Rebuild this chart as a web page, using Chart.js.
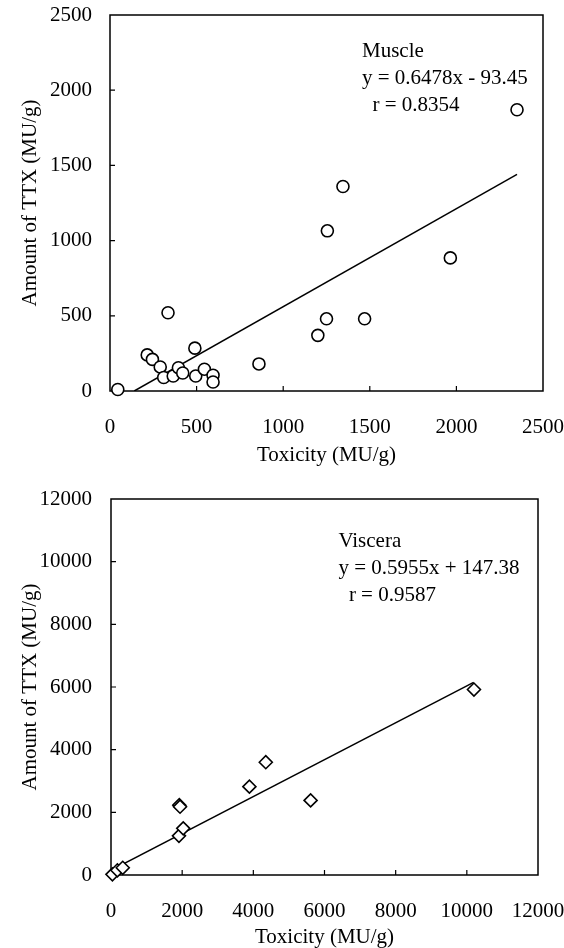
<!DOCTYPE html>
<html>
<head>
<style type="text/css">
body { margin: 0; background: #fff; }
canvas { display: block; }
</style>
<title>TTX vs toxicity</title>
<script type="text/javascript" src="https://cdn.jsdelivr.net/npm/chart.js@4/dist/chart.umd.min.js"></script>
</head>
<body>
<canvas id="muscle" width="564" height="470"></canvas>
<canvas id="viscera" width="564" height="478"></canvas>
<script type="text/javascript">
// muscle: toxicity (MU/g) vs amount of TTX (MU/g)
var muscleX = [45, 215, 245, 290, 310, 335, 365, 395, 420, 490, 495, 545, 595, 595, 860, 1200, 1250, 1255, 1345, 1470, 1965, 2350];
var muscleY = [10, 240, 210, 160, 90, 520, 100, 155, 120, 285, 100, 145, 105, 60, 180, 370, 480, 1065, 1360, 480, 885, 1870];
var muscleFitX = [140, 2350];
var muscleFitY = [0, 1440];
var muscleNote = ['Muscle', 'y = 0.6478x - 93.45', '  r = 0.8354'];

// viscera
var visceraX = [40, 180, 330, 1920, 1940, 1910, 2030, 3890, 4350, 5610, 10200];
var visceraY = [20, 150, 230, 2230, 2180, 1250, 1490, 2820, 3600, 2380, 5920];
var visceraFitX = [0, 10190];
var visceraFitY = [150, 6150];
var visceraNote = ['Viscera', 'y = 0.5955x + 147.38', '  r = 0.9587'];

var FONT = '"Liberation Serif", "Times New Roman", serif';

function toPoints(xs, ys) {
	var pts = [];
	for (var i = 0; i < xs.length; ++i) pts.push({x: xs[i], y: ys[i]});
	return pts;
}

// box round the plot, inward tick marks, and the fit label
var framePlugin = {
	id: 'frame',
	beforeDatasetsDraw: function (chart) {
		var ctx = chart.ctx, a = chart.chartArea;
		var xs = chart.scales.x, ys = chart.scales.y;
		ctx.save();
		ctx.strokeStyle = '#000';
		ctx.lineWidth = 1.5;
		ctx.strokeRect(a.left, a.top, a.right - a.left, a.bottom - a.top);
		ctx.lineWidth = 1.2;
		ctx.beginPath();
		for (var i = 1; i < xs.ticks.length - 1; ++i) {
			var px = xs.getPixelForTick(i);
			ctx.moveTo(px, a.bottom);
			ctx.lineTo(px, a.bottom - 5);
		}
		for (var j = 1; j < ys.ticks.length - 1; ++j) {
			var py = ys.getPixelForTick(j);
			ctx.moveTo(a.left, py);
			ctx.lineTo(a.left + 5, py);
		}
		ctx.stroke();
		ctx.restore();
	},
	afterDatasetsDraw: function (chart, args, opts) {
		var ctx = chart.ctx;
		var x = chart.scales.x.getPixelForValue(opts.x);
		var y = chart.scales.y.getPixelForValue(opts.y);
		ctx.save();
		ctx.fillStyle = '#000';
		ctx.font = '21px ' + FONT;
		ctx.textAlign = 'left';
		ctx.textBaseline = 'alphabetic';
		for (var i = 0; i < opts.lines.length; ++i) {
			ctx.fillText(opts.lines[i], x, y + i * 27);
		}
		ctx.restore();
	}
};

function createChart(id, cfg) {
	var tickFont = {family: FONT, size: 21};
	var titleFont = {family: FONT, size: 21, lineHeight: 1};
	return new Chart(document.getElementById(id).getContext('2d'), {
		type: 'scatter',
		data: {
			datasets: [
				{
					data: toPoints(cfg.xs, cfg.ys),
					pointStyle: cfg.marker,
					pointRadius: cfg.radius,
					pointBorderWidth: 1.6,
					pointBorderColor: '#000',
					pointBackgroundColor: '#fff',
					clip: false
				},
				{
					data: toPoints(cfg.fitX, cfg.fitY),
					showLine: true,
					borderColor: '#000',
					borderWidth: 1.5,
					pointRadius: 0,
					order: 1
				}
			]
		},
		options: {
			responsive: false,
			animation: false,
			layout: {padding: cfg.padding},
			plugins: {
				legend: {display: false},
				tooltip: {enabled: false},
				frame: {x: cfg.noteX, y: cfg.noteY, lines: cfg.note}
			},
			scales: {
				x: {
					type: 'linear',
					min: 0,
					max: cfg.xMax,
					afterFit: function (s) {
						s.height = cfg.xHeight;
						s.paddingLeft = 0;
						s.paddingRight = 0;
					},
					grid: {display: false, drawTicks: false},
					border: {display: false},
					ticks: {
						stepSize: cfg.xStep,
						autoSkip: false,
						maxRotation: 0,
						padding: cfg.xTickPad,
						color: '#000',
						font: tickFont,
						callback: function (v) { return String(v); }
					},
					title: {
						display: true,
						text: 'Toxicity (MU/g)',
						color: '#000',
						font: titleFont,
						padding: {top: 0, bottom: cfg.xTitlePad}
					}
				},
				y: {
					type: 'linear',
					min: 0,
					max: cfg.yMax,
					afterFit: function (s) {
						s.width = cfg.yWidth;
						s.paddingTop = 0;
						s.paddingBottom = 0;
					},
					grid: {display: false, drawTicks: false},
					border: {display: false},
					ticks: {
						stepSize: cfg.yStep,
						autoSkip: false,
						padding: cfg.yTickPad,
						color: '#000',
						font: tickFont,
						callback: function (v) { return String(v); }
					},
					title: {
						display: true,
						text: 'Amount of TTX (MU/g)',
						color: '#000',
						font: titleFont,
						padding: {top: 20, bottom: 0}
					}
				}
			}
		},
		plugins: [framePlugin]
	});
}

createChart('muscle', {
	xs: muscleX, ys: muscleY, fitX: muscleFitX, fitY: muscleFitY,
	marker: 'circle', radius: 6,
	xMax: 2500, xStep: 500, yMax: 2500, yStep: 500,
	padding: {left: 0, top: 15, right: 21, bottom: 0},
	yWidth: 110, xHeight: 79,
	xTickPad: 24, yTickPad: 18, xTitlePad: 4,
	noteX: 1455, noteY: 2220, note: muscleNote
});

createChart('viscera', {
	xs: visceraX, ys: visceraY, fitX: visceraFitX, fitY: visceraFitY,
	marker: 'rectRot', radius: 6.5,
	xMax: 12000, xStep: 2000, yMax: 12000, yStep: 2000,
	padding: {left: 0, top: 29, right: 26, bottom: 0},
	yWidth: 111, xHeight: 73,
	xTickPad: 24, yTickPad: 19, xTitlePad: 0,
	noteX: 6390, noteY: 10460, note: visceraNote
});
</script>
</body>
</html>
